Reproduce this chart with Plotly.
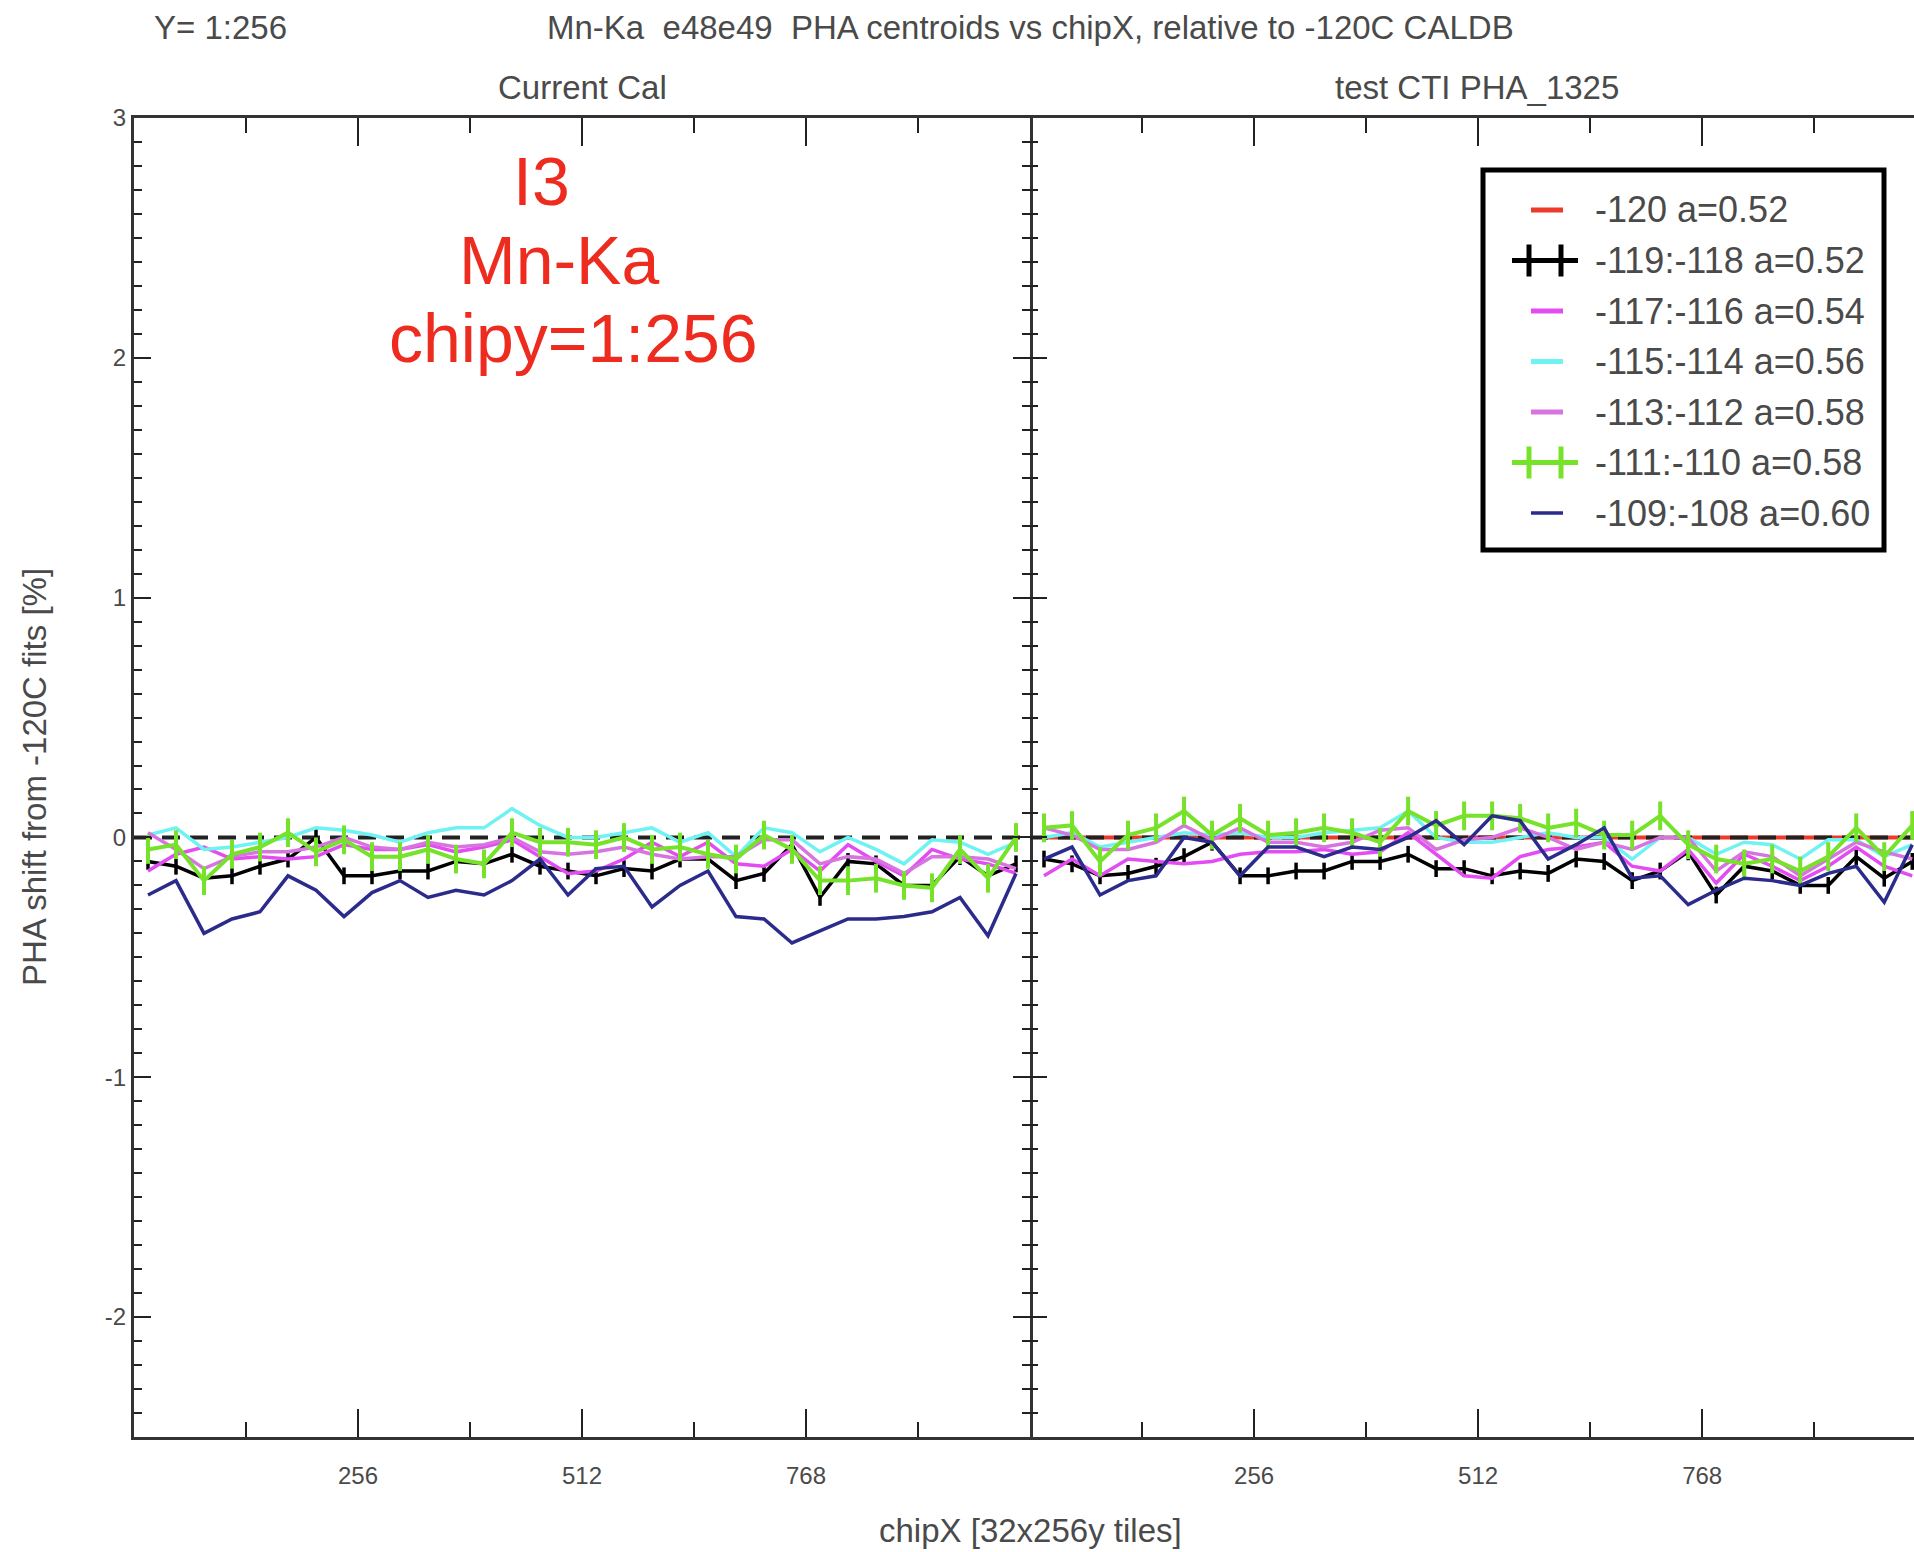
import plotly.graph_objects as go

# ---------------- data ----------------
TILE_X = [16, 48, 80, 112, 144, 176, 208, 240, 272, 304, 336, 368, 400, 432, 464, 496,
          528, 560, 592, 624, 656, 688, 720, 752, 784, 816, 848, 880, 912, 944, 976, 1008]

X_TICKS = [256, 512, 768]
X_TICK_TEXT = ["256", "512", "768"]
Y_TICKS = [-2, -1, 0, 1, 2, 3]
Y_TICK_TEXT = ["-2", "-1", "0", "1", "2", "3"]

SERIES_NAMES = ["-120 a=0.52", "-119:-118 a=0.52", "-117:-116 a=0.54", "-115:-114 a=0.56",
                "-113:-112 a=0.58", "-111:-110 a=0.58", "-109:-108 a=0.60"]

# Left panel: "Current Cal"
L_BLACK = [-0.10, -0.12, -0.17, -0.16, -0.12, -0.09, 0.00, -0.16, -0.16, -0.14, -0.14, -0.10, -0.11, -0.07, -0.12,
           -0.14, -0.16, -0.13, -0.14, -0.09, -0.09, -0.18, -0.15, -0.03, -0.25, -0.10, -0.11, -0.20, -0.20, -0.08, -0.16, -0.11]
L_MAGENTA = [-0.14, -0.07, -0.04, -0.09, -0.08, -0.09, -0.08, -0.03, -0.05, -0.05, -0.03, -0.06, -0.04, -0.01, -0.08,
             -0.15, -0.14, -0.09, -0.02, -0.08, -0.02, -0.11, -0.12, -0.05, -0.14, -0.03, -0.10, -0.16, -0.05, -0.09, -0.11, -0.15]
L_CYAN = [0.01, 0.04, -0.05, -0.04, -0.02, 0.00, 0.04, 0.03, 0.01, -0.02, 0.02, 0.04, 0.04, 0.12, 0.05,
          0.00, 0.00, 0.02, 0.04, -0.02, 0.02, -0.08, 0.04, 0.02, -0.06, 0.00, -0.05, -0.11, -0.01, -0.02, -0.07, -0.02]
L_ORCHID = [0.02, -0.05, -0.13, -0.08, -0.06, -0.06, -0.04, 0.00, -0.04, -0.05, -0.02, -0.04, -0.03, 0.00, -0.06,
            -0.07, -0.06, -0.04, -0.07, -0.09, -0.08, -0.08, -0.01, -0.01, -0.11, -0.08, -0.09, -0.15, -0.08, -0.08, -0.09, -0.13]
L_GREEN = [-0.05, -0.03, -0.18, -0.07, -0.04, 0.02, -0.06, -0.01, -0.08, -0.08, -0.05, -0.09, -0.11, 0.02, -0.02,
           -0.02, -0.03, 0.00, -0.05, -0.04, -0.07, -0.09, 0.01, -0.05, -0.18, -0.18, -0.17, -0.20, -0.21, -0.05, -0.17, 0.00]
L_NAVY = [-0.24, -0.18, -0.40, -0.34, -0.31, -0.16, -0.22, -0.33, -0.23, -0.18, -0.25, -0.22, -0.24, -0.18, -0.09,
          -0.24, -0.13, -0.12, -0.29, -0.20, -0.14, -0.33, -0.34, -0.44, -0.39, -0.34, -0.34, -0.33, -0.31, -0.25, -0.41, -0.15]

# Right panel: "test CTI PHA_1325"
R_RED = [0.0, 0.0, 0.0, 0.0, 0.0, 0.0, 0.0, 0.0, 0.0, 0.0, 0.0, 0.0, 0.0, 0.0, 0.0, 0.0,
         0.0, 0.0, 0.0, 0.0, 0.0, 0.0, 0.0, 0.0, 0.0, 0.0, 0.0, 0.0, 0.0, 0.0, 0.0, 0.0]
R_BLACK = [-0.09, -0.11, -0.16, -0.15, -0.12, -0.08, -0.02, -0.16, -0.16, -0.14, -0.14, -0.10, -0.10, -0.07, -0.13, -0.13,
           -0.16, -0.14, -0.15, -0.09, -0.10, -0.18, -0.14, -0.06, -0.24, -0.12, -0.14, -0.20, -0.20, -0.08, -0.17, -0.10]
R_MAGENTA = [-0.16, -0.09, -0.16, -0.09, -0.10, -0.11, -0.10, -0.07, -0.06, -0.06, -0.05, -0.07, -0.06, 0.02, -0.07, -0.16,
             -0.17, -0.08, -0.05, -0.04, -0.02, -0.12, -0.14, -0.05, -0.19, -0.07, -0.12, -0.18, -0.12, -0.04, -0.12, -0.16]
R_CYAN = [0.00, 0.02, -0.04, -0.02, 0.00, 0.02, 0.01, 0.02, 0.00, 0.00, 0.02, 0.03, 0.04, 0.11, 0.00, -0.02,
          -0.02, 0.00, 0.02, 0.00, 0.00, -0.09, 0.00, 0.00, -0.07, -0.02, -0.03, -0.09, -0.01, -0.01, -0.08, -0.03]
R_ORCHID = [0.04, 0.01, -0.05, -0.05, -0.02, 0.05, -0.01, 0.04, -0.02, -0.02, -0.04, -0.02, 0.03, 0.04, -0.05, -0.01,
            0.00, 0.04, 0.00, -0.05, -0.02, -0.05, 0.00, 0.00, -0.14, -0.06, -0.08, -0.16, -0.09, -0.02, -0.06, -0.09]
R_GREEN = [0.04, 0.05, -0.10, 0.01, 0.04, 0.11, 0.01, 0.08, 0.01, 0.02, 0.04, 0.02, -0.02, 0.11, 0.05, 0.09,
           0.09, 0.08, 0.04, 0.06, 0.01, 0.01, 0.09, -0.03, -0.09, -0.11, -0.09, -0.14, -0.08, 0.04, -0.08, 0.05]
R_NAVY = [-0.09, -0.04, -0.24, -0.18, -0.16, 0.00, -0.02, -0.16, -0.04, -0.04, -0.08, -0.04, -0.05, 0.00, 0.07, -0.03,
          0.09, 0.07, -0.09, -0.03, 0.04, -0.17, -0.16, -0.28, -0.22, -0.17, -0.18, -0.20, -0.15, -0.12, -0.27, -0.03]

BLACK_ERR = 0.035
GREEN_ERR = 0.06
BASELINE_X = [0, 1024]
BASELINE_Y = [0, 0]

# ---------------- styles ----------------
C_RED = "#ec3b2b"
C_BLACK = "#000000"
C_MAGENTA = "#e24cf2"
C_CYAN = "#6ef2f2"
C_ORCHID = "#d774e0"
C_GREEN = "#76e22a"
C_NAVY = "#2b2b8c"
COLORS = [C_RED, C_BLACK, C_MAGENTA, C_CYAN, C_ORCHID, C_GREEN, C_NAVY]
HAS_ERR = [False, True, False, False, False, True, False]
SWATCH_W = [5, 5, 5, 5, 5, 5, 3.5]
TXT = "#4a4a4a"
FONT = "Liberation Sans, Arial, sans-serif"
RED_TXT = "#ee2b1f"

fig = go.Figure()


def add_series(xa, ya, ys, name, color, width, err=None, err_th=3.5):
    kw = {}
    if err is not None:
        kw["error_y"] = dict(type="constant", value=err, width=0, thickness=err_th, color=color)
    fig.add_trace(go.Scatter(x=TILE_X, y=ys, mode="lines", name=name, xaxis=xa, yaxis=ya,
                             line=dict(color=color, width=width), showlegend=False, **kw))


for xa, ya, data in [
    ("x", "y", [None, L_BLACK, L_MAGENTA, L_CYAN, L_ORCHID, L_GREEN, L_NAVY]),
    ("x2", "y2", [R_RED, R_BLACK, R_MAGENTA, R_CYAN, R_ORCHID, R_GREEN, R_NAVY]),
]:
    red, blk, mag, cya, orc, grn, nav = data
    if red is not None:
        add_series(xa, ya, red, SERIES_NAMES[0], C_RED, 4)
    fig.add_trace(go.Scatter(x=BASELINE_X, y=BASELINE_Y, mode="lines", xaxis=xa, yaxis=ya,
                             line=dict(color="#222222", width=4, dash="18px,10px"),
                             showlegend=False, hoverinfo="skip"))
    add_series(xa, ya, blk, SERIES_NAMES[1], C_BLACK, 3.5, err=BLACK_ERR, err_th=3.5)
    add_series(xa, ya, mag, SERIES_NAMES[2], C_MAGENTA, 3.5)
    add_series(xa, ya, cya, SERIES_NAMES[3], C_CYAN, 3.5)
    add_series(xa, ya, orc, SERIES_NAMES[4], C_ORCHID, 3.5)
    add_series(xa, ya, grn, SERIES_NAMES[5], C_GREEN, 4, err=GREEN_ERR, err_th=4)
    add_series(xa, ya, nav, SERIES_NAMES[6], C_NAVY, 3.5)

W, H = 1914, 1552
ML, MR, MT, MB = 134, 0, 118, 115
PW = W - ML - MR
PH = H - MT - MB
SPLIT = 896 / PW


def px(xp):
    return (xp - ML) / PW


def py(yp):
    return (H - MB - yp) / PH


xcommon = dict(
    tickvals=X_TICKS, ticktext=X_TICK_TEXT, ticks="inside", ticklen=28, tickwidth=2,
    tickcolor="#222", showline=True, linewidth=3, linecolor="#333", mirror="allticks",
    showgrid=False, zeroline=False, tickfont=dict(size=24, color=TXT, family=FONT),
    ticklabelstandoff=15,
    minor=dict(dtick=128, tick0=0, ticklen=15, tickwidth=2, tickcolor="#222", ticks="inside", showgrid=False),
)
ycommon = dict(
    range=[-2.5, 3], tickvals=Y_TICKS, ticktext=Y_TICK_TEXT, ticks="inside", ticklen=17, tickwidth=2,
    tickcolor="#222", linewidth=3, linecolor="#333", showgrid=False, zeroline=False,
    tickfont=dict(size=24, color=TXT, family=FONT),
    minor=dict(dtick=0.1, tick0=0, ticklen=8, tickwidth=2, tickcolor="#222", ticks="inside", showgrid=False),
)

fig.update_layout(
    width=W, height=H, margin=dict(l=ML, r=MR, t=MT, b=MB),
    paper_bgcolor="white", plot_bgcolor="white",
    font=dict(family=FONT, color=TXT),
    xaxis=dict(domain=[0, SPLIT], range=[0, 1024], anchor="y", **xcommon),
    xaxis2=dict(domain=[SPLIT, 1], range=[0, 1010], anchor="y2", **xcommon),
    yaxis=dict(anchor="x", mirror="allticks", showline=True, **ycommon),
    yaxis2=dict(anchor="x2", matches="y", showticklabels=False, mirror=False, showline=False, **ycommon),
    showlegend=False,
)

ann = [
    ("Y= 1:256", px(152), py(27), "left", 33, TXT),
    ("Mn-Ka  e48e49  PHA centroids vs chipX, relative to -120C CALDB", px(1030), py(27), "center", 33, TXT),
    ("Current Cal", px(582), py(88), "center", 33, TXT),
    ("test CTI PHA_1325", px(1477), py(88), "center", 33, TXT),
    ("chipX [32x256y tiles]", px(1030), py(1530), "center", 33, TXT),
    ("I3", px(541), py(181), "center", 68, RED_TXT),
    ("Mn-Ka", px(559), py(260), "center", 68, RED_TXT),
    ("chipy=1:256", px(573), py(338), "center", 68, RED_TXT),
]
for text, x, y, xa, size, color in ann:
    fig.add_annotation(text=text, x=x, y=y, xref="paper", yref="paper", xanchor=xa, yanchor="middle",
                       showarrow=False, font=dict(size=size, color=color, family=FONT))

fig.add_annotation(text="PHA shift from -120C fits [%]", x=px(34), y=py(777), xref="paper", yref="paper",
                   xanchor="center", yanchor="middle", textangle=-90, showarrow=False,
                   font=dict(size=33, color=TXT, family=FONT))

# ---------------- legend box (drawn in paper space) ----------------
LEG_L, LEG_R, LEG_T, LEG_B = 1483, 1884, 170, 550
ROW0, ROW_STEP = 210, 50.5
fig.add_shape(type="rect", xref="paper", yref="paper", x0=px(LEG_L), x1=px(LEG_R), y0=py(LEG_B), y1=py(LEG_T),
              line=dict(color="black", width=5), fillcolor="white", layer="above")
for i, name in enumerate(SERIES_NAMES):
    yc = ROW0 + ROW_STEP * i
    col = COLORS[i]
    if HAS_ERR[i]:
        fig.add_shape(type="line", xref="paper", yref="paper", x0=px(1512), x1=px(1578), y0=py(yc), y1=py(yc),
                      line=dict(color=col, width=5), layer="above")
        for bx in (1529, 1561):
            fig.add_shape(type="line", xref="paper", yref="paper", x0=px(bx), x1=px(bx), y0=py(yc - 16),
                          y1=py(yc + 16), line=dict(color=col, width=5), layer="above")
    else:
        fig.add_shape(type="line", xref="paper", yref="paper", x0=px(1531), x1=px(1563), y0=py(yc), y1=py(yc),
                      line=dict(color=col, width=SWATCH_W[i]), layer="above")
    fig.add_annotation(text=name, x=px(1593), y=py(yc), xref="paper", yref="paper", xanchor="left",
                       yanchor="middle", showarrow=False, font=dict(size=36, color=TXT, family=FONT))

fig.write_html("out.html", config={"displayModeBar": False},
               post_script="document.body.style.margin='0';")
